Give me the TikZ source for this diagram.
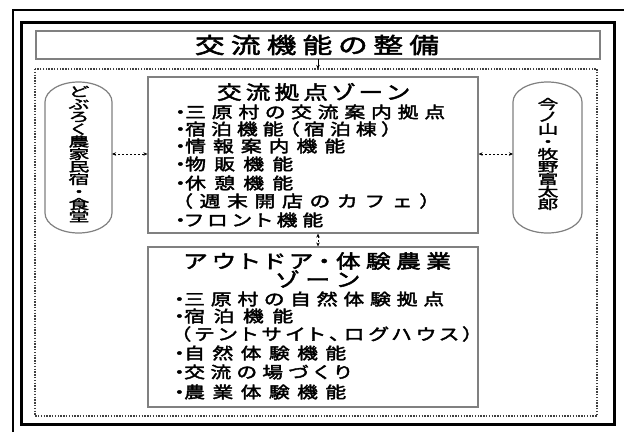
\documentclass[tikz,border=0pt]{standalone}
\usepackage{fontspec}
\usetikzlibrary{arrows.meta}
\newfontfamily\jpitem[FakeStretch=1.3,FakeBold=2.5,RawFeature=+palt]{Noto Sans CJK JP}
\newfontfamily\jpitemfw[FakeStretch=1.3,FakeBold=2.5]{Noto Sans CJK JP}
\newfontfamily\jptitle[FakeStretch=1.35,FakeBold=2.5,RawFeature=+palt]{Noto Sans CJK JP}
\newfontfamily\jpzone[FakeStretch=1.3,FakeBold=2.5,RawFeature=+palt]{Noto Sans CJK JP}
\newfontfamily\jpvert[FakeStretch=1.6,FakeBold=2.5]{Noto Sans CJK JP}
\makeatletter
\def\fitto#1#2{\hbox to #1{\fit@a#2\relax}}
\def\fit@a#1{#1\fit@b}
\def\fit@b#1{\ifx#1\relax\else\hskip 0pt plus 1fil minus 1fil#1\expandafter\fit@b\fi}
\makeatother
\newcommand\bul{\hbox to 10pt{・\hss}}
\definecolor{boxgray}{HTML}{808080}
\definecolor{dotgray}{HTML}{404040}
\tikzset{
  graybox/.style={draw=boxgray, line width=1.2pt},
  dotframe/.style={draw=dotgray, line width=1.6pt, dash pattern=on 1.4pt off 1.4pt},
  itemtext/.style={anchor=west, inner sep=0pt, font=\jpitem\fontsize{16}{18}\selectfont},
  zonetext/.style={inner sep=0pt, font=\jpzone\fontsize{19}{20}\selectfont},
  verttext/.style={inner sep=0pt, align=center, font=\jpvert\fontsize{13}{12.5}\selectfont},
  linkarrow/.style={draw=black, line width=0.8pt, dash pattern=on 2pt off 2pt,
    {Stealth[length=4pt,width=3.5pt]}-{Stealth[length=4pt,width=3.5pt]}},
  downarrow/.style={draw=black, line width=0.8pt, -{Stealth[length=4pt,width=3.5pt]}}
}
\begin{document}
\begin{tikzpicture}[x=1pt,y=-1pt]
\useasboundingbox (0,0) rectangle (624,432);
\fill[white] (0,0) rectangle (624,432);
% outer thin frame (cut by picture edge)
\draw[line width=1.3pt] (13,432) -- (13,10) -- (624,10);
% thick frame
\draw[line width=3pt] (21,22) rectangle (614,424);
% title box
\draw[graybox] (36,31) rectangle (600,59);
\node[inner sep=0pt, font=\jptitle\fontsize{22}{24}\selectfont] (title) at (317,45) {\fitto{244pt}{交流機能の整備}};
\coordinate (titlebot) at (318,59);
% dotted frame
\draw[dotframe] (35,69) rectangle (597,416);
\coordinate (dottop) at (318,69);
\draw[downarrow] (titlebot) -- (dottop);
% zone boxes
\node[graybox, minimum width=330pt, minimum height=156pt, inner sep=0pt] (zoneA) at (313,155) {};
\node[graybox, minimum width=330pt, minimum height=160pt, inner sep=0pt] (zoneB) at (313,327) {};
% pills
\draw[graybox] (45,102) arc[start angle=180,end angle=360,x radius=33.5,y radius=20] -- (112,213)
  arc[start angle=0,end angle=180,x radius=33.5,y radius=20] -- cycle;
\coordinate (pillL) at (112,154);
\draw[graybox] (513,102) arc[start angle=180,end angle=360,x radius=34.5,y radius=20] -- (582,213)
  arc[start angle=0,end angle=180,x radius=34.5,y radius=20] -- cycle;
\coordinate (pillR) at (513,154);
\node[verttext] (vl) at (79,154) {ど\\ぶ\\ろ\\く\\農\\家\\民\\宿\\・\\食\\堂};
\node[verttext] (vr) at (548,154) {今\\ノ\\山\\・\\牧\\野\\富\\太\\郎};
% connectors
\draw[linkarrow] (pillL) -- (zoneA.west |- pillL);
\draw[linkarrow] (zoneA.east |- pillR) -- (pillR);
\draw[linkarrow] (zoneA.south -| titlebot) -- (zoneB.north -| titlebot);
% zone A text
\node[zonetext] (za) at (313,92) {\fitto{192pt}{交流拠点ゾーン}};
\node[itemtext] (a1) at (175,112) {\bul\fitto{260pt}{三原村の交流案内拠点}};
\node[itemtext] (a2) at (175,129) {\bul\fitto{207pt}{宿泊機能（宿泊棟）}};
\node[itemtext] (a3) at (175,146) {\bul\fitto{160pt}{情報案内機能}};
\node[itemtext] (a4) at (175,164) {\bul\fitto{108pt}{物販機能}};
\node[itemtext] (a5) at (175,183) {\bul\fitto{108pt}{休憩機能}};
\node[itemtext, font=\jpitemfw\fontsize{16}{18}\selectfont] (a6) at (172,201) {\fitto{268pt}{（週末開店のカフェ）}};
\node[itemtext] (a7) at (175,220) {\bul\fitto{138pt}{フロント機能}};
% zone B text
\node[zonetext] (zb1) at (317.5,261) {\fitto{267pt}{アウトドア・体験農業}};
\node[zonetext] (zb2) at (317.5,279) {\fitto{83pt}{ゾーン}};
\node[itemtext] (b1) at (174,299) {\bul\fitto{260pt}{三原村の自然体験拠点}};
\node[itemtext] (b2) at (174,316) {\bul\fitto{109pt}{宿泊機能}};
\node[itemtext] (b3) at (180,334) {\fitto{293pt}{（テントサイト、ログハウス）}};
\node[itemtext] (b4) at (174,353) {\bul\fitto{162pt}{自然体験機能}};
\node[itemtext] (b5) at (174,372) {\bul\fitto{167pt}{交流の場づくり}};
\node[itemtext] (b6) at (174,392) {\bul\fitto{162pt}{農業体験機能}};
\end{tikzpicture}
\end{document}
